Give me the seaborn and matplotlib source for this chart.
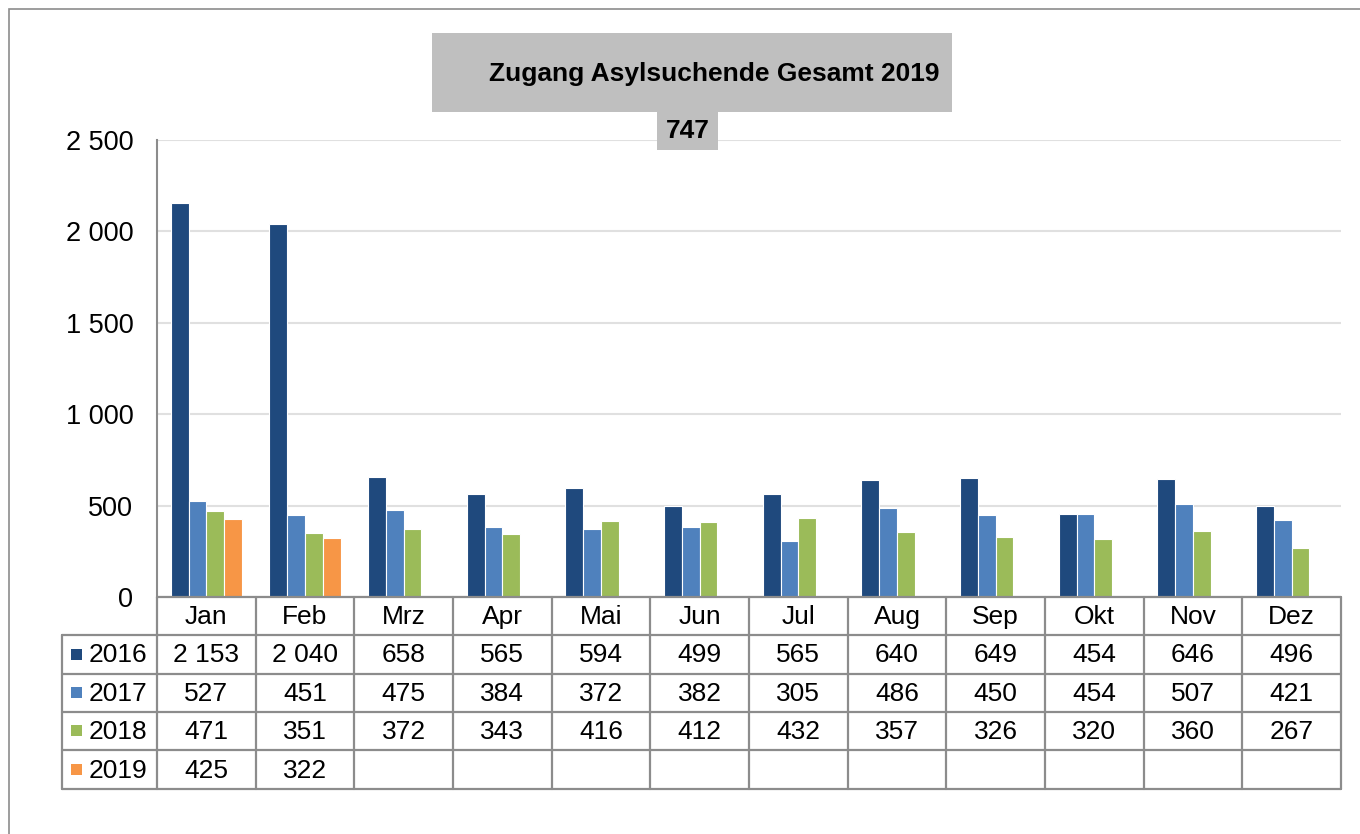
import numpy as np
import pandas as pd
import matplotlib
matplotlib.use("Agg")
import matplotlib.pyplot as plt
from matplotlib.patches import Rectangle
from matplotlib.lines import Line2D
import seaborn as sns

months = ["Jan", "Feb", "Mrz", "Apr", "Mai", "Jun", "Jul", "Aug", "Sep", "Okt", "Nov", "Dez"]
years = ["2016", "2017", "2018", "2019"]
v2016 = [2153, 2040, 658, 565, 594, 499, 565, 640, 649, 454, 646, 496]
v2017 = [527, 451, 475, 384, 372, 382, 305, 486, 450, 454, 507, 421]
v2018 = [471, 351, 372, 343, 416, 412, 432, 357, 326, 320, 360, 267]
v2019 = [425, 322, None, None, None, None, None, None, None, None, None, None]
colors = ["#1F497D", "#4F81BD", "#9BBB59", "#F79646"]
title_text = "Zugang Asylsuchende Gesamt 2019"
total_text = "747"
yticks = [0, 500, 1000, 1500, 2000, 2500]

series = [v2016, v2017, v2018, v2019]
rows = []
for y, vals in zip(years, series):
    for m, v in zip(months, vals):
        rows.append({"month": m, "year": y, "value": np.nan if v is None else v})
df = pd.DataFrame(rows)

sns.set_theme(style="white")
plt.rcParams["font.family"] = ["Liberation Sans", "DejaVu Sans"]

W, H = 1360, 834
fig = plt.figure(figsize=(W / 100, H / 100), dpi=100)

def fx(x):
    return x / W

def fy(y):
    return 1 - y / H

# plot area in pixels
L, R, T, B = 157, 1341, 140, 597
ax = fig.add_axes([fx(L), fy(B), (R - L) / W, (B - T) / H])

sns.barplot(data=df.dropna(), x="month", y="value", hue="year", order=months,
            hue_order=years, palette=colors, saturation=1, width=0.72, errorbar=None,
            edgecolor="white", linewidth=0.8, ax=ax, legend=False, zorder=3)

ax.set_xlim(-0.5, 11.5)
ax.set_ylim(0, 2500)
ax.set_yticks(yticks)
ax.set_yticklabels([f"{t:,}".replace(",", " ") for t in yticks], fontsize=19.5, color="black")
ax.tick_params(axis="y", length=0, pad=17)
ax.tick_params(axis="x", length=0, labelbottom=False)
ax.set_xlabel("")
ax.set_ylabel("")
ax.grid(axis="y", color="#E0E0E0", linewidth=1.5, zorder=0)
ax.set_axisbelow(True)
for s in ["top", "right", "bottom"]:
    ax.spines[s].set_visible(False)
ax.spines["left"].set_color("#8C8C8C")
ax.spines["left"].set_linewidth(1.5)

# outer frame
fig.add_artist(Rectangle((fx(9), fy(845)), (1370 - 9) / W, (845 - 9) / H,
                         transform=fig.transFigure, fill=False,
                         edgecolor="#8C8C8C", linewidth=1.2))

# title boxes
fig.add_artist(Rectangle((fx(432), fy(112)), (952 - 432) / W, (112 - 33) / H,
                         transform=fig.transFigure, facecolor="#BFBFBF", edgecolor="none"))
fig.add_artist(Rectangle((fx(657), fy(150)), (718 - 657) / W, (150 - 112) / H,
                         transform=fig.transFigure, facecolor="#BFBFBF", edgecolor="none"))
fig.text(fx(714), fy(74), title_text, ha="center", va="center", fontsize=19,
         fontweight="bold", color="black")
fig.text(fx(687.5), fy(131), total_text, ha="center", va="center", fontsize=19,
         fontweight="bold", color="black")

# data table
lc = "#8C8C8C"
lw = 1.6
col_w = (R - L) / 12
row_ys = [597, 635, 674, 712, 750, 789]
xL = 62

def hline(x0, x1, y):
    fig.add_artist(Line2D([fx(x0), fx(x1)], [fy(y), fy(y)], transform=fig.transFigure,
                          color=lc, linewidth=lw))

def vline(x, y0, y1):
    fig.add_artist(Line2D([fx(x), fx(x)], [fy(y0), fy(y1)], transform=fig.transFigure,
                          color=lc, linewidth=lw))

hline(L, R, row_ys[0])
for y in row_ys[1:]:
    hline(xL, R, y)
vline(xL, row_ys[1], row_ys[-1])
for k in range(13):
    vline(L + k * col_w, row_ys[0], row_ys[-1])

fs = 19
for k, m in enumerate(months):
    cx = L + (k + 0.5) * col_w
    fig.text(fx(cx), fy((row_ys[0] + row_ys[1]) / 2 + 1), m, ha="center", va="center",
             fontsize=fs, color="black")

for r, (yr, vals, c) in enumerate(zip(years, series, colors)):
    cy = (row_ys[r + 1] + row_ys[r + 2]) / 2
    fig.add_artist(Rectangle((fx(71), fy(cy + 5)), 11 / W, 11 / H,
                             transform=fig.transFigure, facecolor=c, edgecolor="none"))
    fig.text(fx(89), fy(cy + 1), yr, ha="left", va="center", fontsize=fs, color="black")
    for k, v in enumerate(vals):
        if v is None:
            continue
        cx = L + (k + 0.5) * col_w
        fig.text(fx(cx), fy(cy + 1), f"{v:,}".replace(",", " "), ha="center", va="center",
                 fontsize=fs, color="black")

fig.savefig("out.png", dpi=100)
